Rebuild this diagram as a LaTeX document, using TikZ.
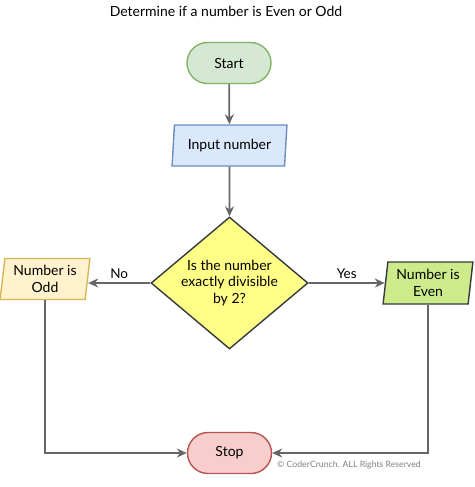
\documentclass[tikz,border=0pt]{standalone}
\usepackage{fontspec}
\setmainfont{Lato}
\usetikzlibrary{shapes.geometric,arrows.meta}
\definecolor{gfill}{HTML}{D5E8D4}\definecolor{gdraw}{HTML}{82B366}
\definecolor{bfill}{HTML}{DAE8FC}\definecolor{bdraw}{HTML}{6C8EBF}
\definecolor{yfill}{HTML}{FFFF88}\definecolor{darkb}{HTML}{36393D}
\definecolor{ofill}{HTML}{FFF2CC}\definecolor{odraw}{HTML}{D6B656}
\definecolor{efill}{HTML}{CDEB8B}
\definecolor{rfill}{HTML}{F8CECC}\definecolor{rdraw}{HTML}{B85450}
\definecolor{arr}{HTML}{666666}
\tikzset{
  every node/.style={font=\fontsize{14}{16.5}\selectfont, align=center},
  term/.style={rectangle, rounded corners=20.5pt, minimum width=84pt, minimum height=41pt, line width=1.4pt, inner sep=0pt},
  para/.style={trapezium, trapezium left angle=82, trapezium right angle=98, trapezium stretches=true, line width=1.4pt, inner sep=0pt},
  deci/.style={diamond, aspect=1.19, minimum width=157pt, minimum height=132pt, line width=1.4pt, inner sep=-6pt, fill=yfill, draw=darkb},
  conn/.style={draw=arr, line width=1.7pt, -{Stealth[length=10pt,width=9pt]}},
  lbl/.style={font=\fontsize{13.5}{16}\selectfont},
}
\begin{document}
\begin{tikzpicture}[x=1pt,y=-1pt]
\useasboundingbox (0,0) rectangle (474,487);
\node (title) at (226,11) {Determine if a number is Even or Odd};
\node[term, fill=gfill, draw=gdraw] (start) at (229,63) {Start};
\node[para, fill=bfill, draw=bdraw, minimum width=115pt, minimum height=41pt] (input) at (229.5,145.5) {Input number};
\node[deci] (dec) at (229.5,283) {Is the number\\exactly divisible\\by 2?};
\node[para, fill=ofill, draw=odraw, minimum width=90pt, minimum height=41pt] (odd) at (45,279) {Number is\\Odd};
\node[para, fill=efill, draw=darkb, minimum width=90pt, minimum height=42pt] (even) at (428,283) {Number is\\Even};
\node[term, fill=rfill, draw=rdraw] (stop) at (229.5,453) {Stop};
\node[font=\fontsize{8.7}{10}\selectfont, text=gray] (copy) at (349,465) {© CoderCrunch. ALL Rights Reserved};
\draw[conn] (start) -- (input);
\draw[conn] (input) -- (dec);
\draw[conn] (dec.west) -- node[lbl, above] {No} (odd.east |- dec.west);
\draw[conn] (dec.east) -- node[lbl, above] {Yes} (even);
\draw[conn] (odd.south) |- (stop.west);
\draw[conn] (even.south) |- (stop.east);
\end{tikzpicture}
\end{document}
